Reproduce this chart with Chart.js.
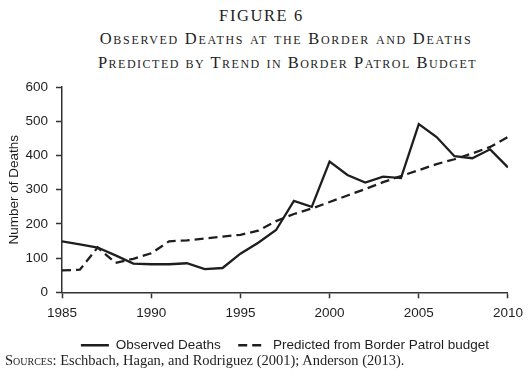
<!DOCTYPE html>
<html>
<head>
<meta charset="utf-8">
<script src="https://cdn.jsdelivr.net/npm/chart.js@4"></script>
<style>
  html, body { margin: 0; padding: 0; background: #fff; }
  body { width: 530px; height: 379px; position: relative; overflow: hidden; color: #1e1e1e; }
  .serif { font-family: "Liberation Serif", "Times New Roman", serif; position: absolute; white-space: nowrap; }
  #fig { left: 0; width: 523px; top: 6px; text-align: center; font-size: 16.5px; letter-spacing: 1.6px; }
  #t1 { left: 0; width: 572px; top: 29px; text-align: center; font-size: 16.5px; font-variant: small-caps; letter-spacing: 1.7px; }
  #t2 { left: 0; width: 575px; top: 53px; text-align: center; font-size: 16.5px; font-variant: small-caps; letter-spacing: 1.5px; }
  #src { left: 5px; top: 352px; font-size: 14.5px; }
  #src .sc { font-variant: small-caps; }
  #wrap { position: absolute; left: 0; top: 71px; width: 530px; height: 291px; }
</style>
</head>
<body>
<div id="fig" class="serif">FIGURE 6</div>
<div id="t1" class="serif">Observed Deaths at the Border and Deaths</div>
<div id="t2" class="serif">Predicted by Trend in Border Patrol Budget</div>
<div id="wrap"><canvas id="chart"></canvas></div>
<div id="src" class="serif"><span class="sc">Sources</span>: Eschbach, Hagan, and Rodriguez (2001); Anderson (2013).</div>

<script>
// values
const years = [1985, 1986, 1987, 1988, 1989, 1990, 1991, 1992, 1993, 1994, 1995, 1996, 1997,
               1998, 1999, 2000, 2001, 2002, 2003, 2004, 2005, 2006, 2007, 2008, 2009, 2010];
const observedDeaths = [149, 140, 131, 108, 84, 82, 82, 85, 68, 71, 113, 145, 182,
                        267, 250, 382, 343, 321, 338, 334, 492, 454, 398, 392, 418, 365];
const predictedDeaths = [64, 66, 131, 86, 98, 114, 149, 152, 157, 163, 168, 180, 208,
                         229, 245, 264, 283, 302, 322, 340, 357, 375, 389, 406, 425, 454];
const seriesLabels = ['Observed Deaths', 'Predicted from Border Patrol budget'];
const yTicks = [0, 100, 200, 300, 400, 500, 600];
const xTicks = [1985, 1990, 1995, 2000, 2005, 2010];

const ink = '#1e1e1e';
const axisInk = '#333';
const sans = '"Liberation Sans", Arial, sans-serif';

const toPoints = (vals) => years.map((yr, i) => ({ x: yr, y: vals[i] }));

const ctx = document.getElementById('chart').getContext('2d');
new Chart(ctx, {
    type: 'line',
    data: {
        datasets: [
            {
                label: seriesLabels[0],
                data: toPoints(observedDeaths),
                borderColor: ink,
                borderWidth: 2.3,
                pointRadius: 0,
                tension: 0,
            },
            {
                label: seriesLabels[1],
                data: toPoints(predictedDeaths),
                borderColor: ink,
                borderWidth: 2.3,
                borderDash: [9, 5],
                pointRadius: 0,
                tension: 0,
            },
        ],
    },
    options: {
        responsive: true,
        maintainAspectRatio: false,
        animation: false,
        layout: { padding: { left: 0, right: 17, top: 8, bottom: 0 } },
        plugins: {
            tooltip: { enabled: false },
            legend: {
                position: 'bottom',
                fullSize: false,
                labels: {
                    color: ink,
                    font: { family: sans, size: 13.5 },
                    usePointStyle: true,
                    pointStyle: 'line',
                    pointStyleWidth: 28,
                    boxHeight: 10,
                    padding: 10,
                    // the point-style legend loses the dash, so copy it back from the dataset;
                    // a little extra room after the first entry, as in the print version
                    generateLabels: (chart) => Chart.defaults.plugins.legend.labels.generateLabels(chart)
                        .map((item, i) => ({
                            ...item,
                            text: i === 0 ? item.text + '  ' : item.text,
                            lineDash: chart.data.datasets[i].borderDash || [],
                            lineWidth: 2.3,
                            strokeStyle: ink,
                        })),
                },
            },
        },
        scales: {
            x: {
                type: 'linear',
                min: 1985,
                max: 2010,
                afterBuildTicks: (scale) => { scale.ticks = xTicks.map(v => ({ value: v })); },
                ticks: {
                    color: ink,
                    font: { family: sans, size: 13.5 },
                    padding: 7,
                    maxRotation: 0,
                    callback: (v) => String(v),
                },
                grid: { display: true, drawOnChartArea: false, tickLength: 6, tickColor: axisInk, tickWidth: 1.5 },
                border: { color: axisInk, width: 1.5 },
            },
            y: {
                min: 0,
                max: 600,
                afterBuildTicks: (scale) => { scale.ticks = yTicks.map(v => ({ value: v })); },
                afterFit: (scale) => { scale.width = 62; },
                ticks: {
                    color: ink,
                    font: { family: sans, size: 13.5 },
                    padding: 8,
                },
                title: {
                    display: true,
                    text: 'Number of Deaths',
                    color: ink,
                    font: { family: sans, size: 13.5 },
                    padding: { top: 6, bottom: 0 },
                },
                grid: { display: true, drawOnChartArea: false, tickLength: 6, tickColor: axisInk, tickWidth: 1.5 },
                border: { color: axisInk, width: 1.5 },
            },
        },
    },
});
</script>
</body>
</html>
